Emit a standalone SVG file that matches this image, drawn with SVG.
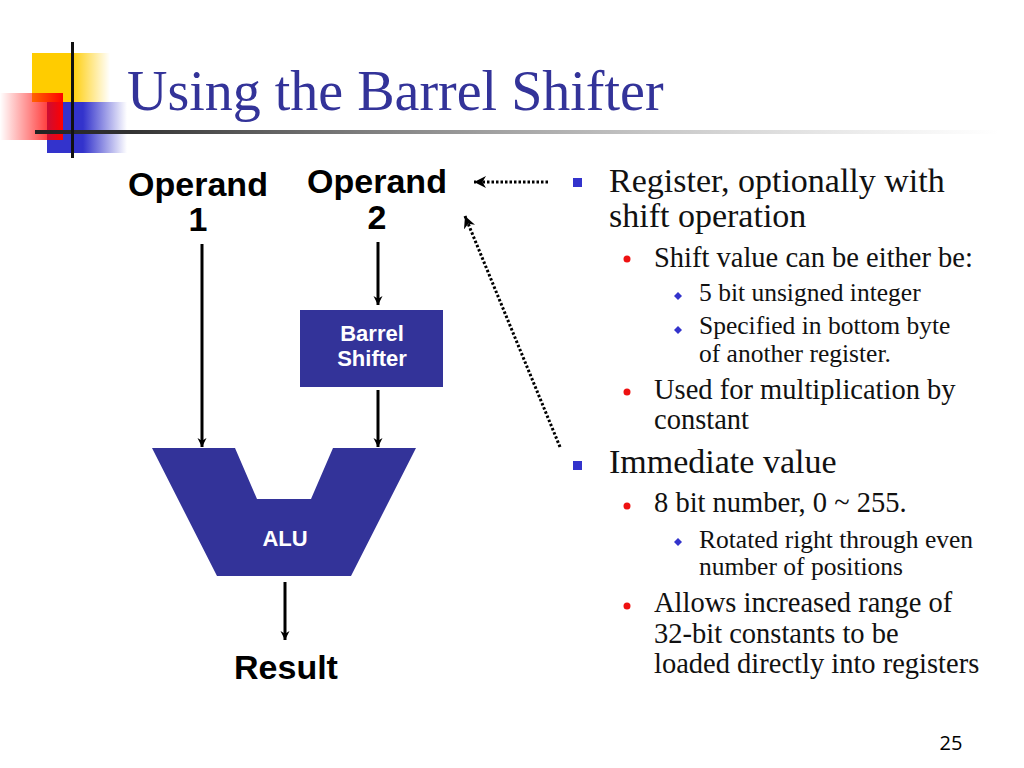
<svg xmlns="http://www.w3.org/2000/svg" width="1024" height="768" viewBox="0 0 1024 768">
<style>
.title{font-family:"Liberation Serif",serif;font-size:56px;fill:#333399}
.op{font-family:"Liberation Sans",Arial,sans-serif;font-weight:bold;font-size:34px;fill:#000;text-anchor:middle}
.box{font-family:"Liberation Sans",Arial,sans-serif;font-weight:bold;font-size:22px;fill:#fff;text-anchor:middle}
.l1{font-family:"Liberation Serif",serif;font-size:34px;fill:#111}
.l2{font-family:"Liberation Serif",serif;font-size:28.5px;fill:#111}
.l3{font-family:"Liberation Serif",serif;font-size:25.5px;fill:#111}
.fill{fill:#333399}
.arr{stroke:#000;stroke-width:3;fill:none}
.dot{stroke:#000;stroke-width:3;stroke-dasharray:2.5 2;fill:none}
.sq{fill:#3333cc}
.rd{fill:#ee1111}
.dm{fill:#3333cc}
</style>
<defs>
<marker id="ah" viewBox="0 0 10 10" refX="10" refY="5" markerWidth="9" markerHeight="11" markerUnits="userSpaceOnUse" orient="auto">
<path d="M0,0 L10,5 L0,10 L3,5 Z" fill="#000"/>
</marker>
<marker id="ahd" viewBox="0 0 10 10" refX="10" refY="5" markerWidth="4" markerHeight="4" orient="auto">
<path d="M0,0 L10,5 L0,10 L3,5 Z" fill="#000"/>
</marker>
<linearGradient id="gy" x1="0" x2="1" y1="0" y2="0">
<stop offset="0" stop-color="#ffcc00"/><stop offset="0.5" stop-color="#ffcc00"/><stop offset="1" stop-color="#ffcc00" stop-opacity="0"/>
</linearGradient>
<linearGradient id="gr" x1="0" x2="1" y1="0" y2="0">
<stop offset="0" stop-color="#ff0000" stop-opacity="0"/><stop offset="1" stop-color="#ff0000"/>
</linearGradient>
<linearGradient id="gb" x1="0" x2="1" y1="0" y2="0">
<stop offset="0" stop-color="#3333cc"/><stop offset="0.45" stop-color="#3333cc"/><stop offset="1" stop-color="#3333cc" stop-opacity="0"/>
</linearGradient>
<linearGradient id="gl" x1="0" x2="1" y1="0" y2="0">
<stop offset="0" stop-color="#222"/><stop offset="0.1" stop-color="#333"/><stop offset="1" stop-color="#999" stop-opacity="0"/>
</linearGradient>
</defs>
<rect width="1024" height="768" fill="#fff"/>
<g id="logo">
<rect x="32" y="53" width="78" height="49" fill="url(#gy)"/>
<rect x="47" y="102" width="80" height="51" fill="url(#gb)"/>
<rect x="0" y="93" width="63" height="47" fill="url(#gr)"/>
<rect x="35" y="130" width="965" height="4" fill="url(#gl)"/>
<rect x="71" y="42" width="3" height="116" fill="#111"/>
</g>
<text class="title" x="127" y="110">Using the Barrel Shifter</text>
<g id="operand1">
<text class="op" x="198" y="196">Operand</text>
<text class="op" x="198" y="231">1</text>
</g>
<g id="operand2">
<text class="op" x="377" y="193">Operand</text>
<text class="op" x="377" y="229">2</text>
</g>
<g id="barrel">
<rect class="fill" x="300" y="310" width="143" height="77"/>
<text class="box" x="372" y="341">Barrel</text>
<text class="box" x="372" y="366">Shifter</text>
</g>
<g id="alu">
<path class="fill" d="M152,448 L235,448 L257,499 L311,499 L333,448 L416,448 L351,576 L217,576 Z"/>
<text class="box" x="285" y="546">ALU</text>
</g>
<g id="result">
<text class="op" x="286" y="679">Result</text>
</g>
<g id="connectors">
<line class="arr" x1="202" y1="244" x2="202" y2="447" marker-end="url(#ah)"/>
<line class="arr" x1="378" y1="242" x2="378" y2="305" marker-end="url(#ah)"/>
<line class="arr" x1="378" y1="390" x2="378" y2="447" marker-end="url(#ah)"/>
<line class="arr" x1="285" y1="582" x2="285" y2="640" marker-end="url(#ah)"/>
<line class="dot" x1="548" y1="182" x2="474" y2="182" marker-end="url(#ahd)"/>
<line class="dot" x1="560" y1="447" x2="465" y2="216" marker-end="url(#ahd)"/>
</g>
<g id="bullets">
<rect class="sq" x="573" y="178" width="9" height="9"/>
<text class="l1" x="609" y="192">Register, optionally with</text>
<text class="l1" x="609" y="227">shift operation</text>
<circle class="rd" cx="627" cy="259" r="3.5"/>
<text class="l2" x="654" y="267">Shift value can be either be:</text>
<path class="dm" d="M678,292 L682,296 L678,300 L674,296 Z"/>
<text class="l3" x="699" y="301">5 bit unsigned integer</text>
<path class="dm" d="M678,326 L682,330 L678,334 L674,330 Z"/>
<text class="l3" x="699" y="334">Specified in bottom byte</text>
<text class="l3" x="699" y="362">of another register.</text>
<circle class="rd" cx="627" cy="392" r="3.5"/>
<text class="l2" x="654" y="399">Used for multiplication by</text>
<text class="l2" x="654" y="429">constant</text>
<rect class="sq" x="573" y="461" width="9" height="9"/>
<text class="l1" x="609" y="473">Immediate value</text>
<circle class="rd" cx="627" cy="506" r="3.5"/>
<text class="l2" x="654" y="512">8 bit number, 0 ~ 255.</text>
<path class="dm" d="M678,538 L682,542 L678,546 L674,542 Z"/>
<text class="l3" x="699" y="548">Rotated right through even</text>
<text class="l3" x="699" y="575">number of positions</text>
<circle class="rd" cx="627" cy="606" r="3.5"/>
<text class="l2" x="654" y="612">Allows increased range of</text>
<text class="l2" x="654" y="643">32-bit constants to be</text>
<text class="l2" x="654" y="673">loaded directly into registers</text>
</g>
<text x="951" y="750" font-family="'Open Sans','Liberation Sans',sans-serif" font-size="20" fill="#000" text-anchor="middle">25</text>
</svg>
